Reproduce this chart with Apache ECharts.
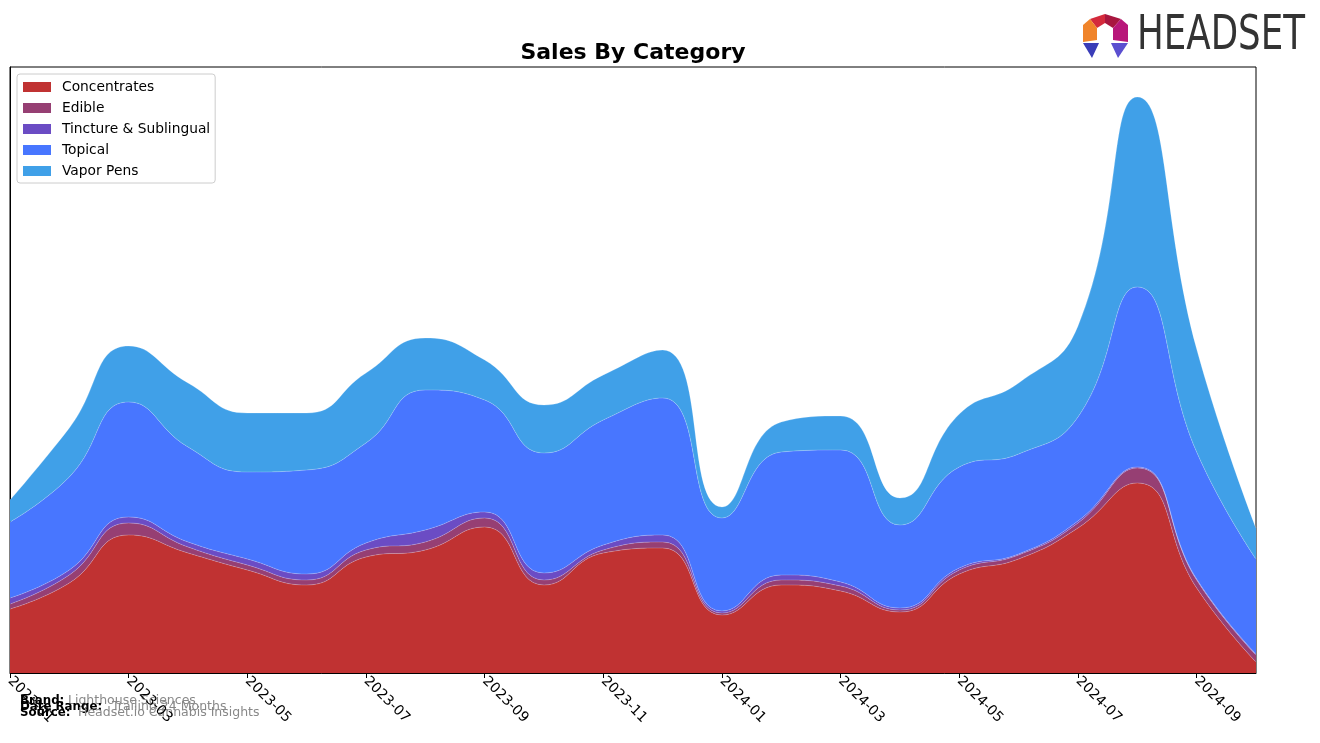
<!DOCTYPE html>
<html>
<head>
<meta charset="utf-8">
<script src="https://cdn.jsdelivr.net/npm/echarts@6/dist/echarts.min.js"></script>
<style>
html,body{margin:0;padding:0;background:#fff;}
#chart{width:1320px;height:743px;}
</style>
</head>
<body>
<div id="chart"></div>
<script>
// ---- data ----
const months = ['2023-01','2023-02','2023-03','2023-04','2023-05','2023-06','2023-07','2023-08','2023-09','2023-10','2023-11','2023-12','2024-01','2024-02','2024-03','2024-04','2024-05','2024-06','2024-07','2024-08','2024-09','2024-10'];
const seriesNames = ['Concentrates','Edible','Tincture & Sublingual','Topical','Vapor Pens'];
const concentrates = [64,90,138,120,103,88,116,123,146,88,120,125,58,88,82,61,99,114,145,190,85,11];
const edible       = [5,8,12,6,5,5,7,8,9,5,3,6,2,5,5,2,4,4,5,15,8,7];
const tincture     = [6,5,6,5,6,6,7,12,6,7,5,7,2,5,4,2,2,1,2,1,1,1];
const topical      = [76,93,115,95,87,104,100,140,112,120,125,137,93,123,132,83,101,100,104,180,127,95];
const vaporPens    = [22,49,56,64,59,57,70,52,40,48,45,48,11,30,34,27,53,71,91,190,103,31];
const tickLabels = ['2023-01','2023-03','2023-05','2023-07','2023-09','2023-11','2024-01','2024-03','2024-05','2024-07','2024-09'];
const colors = ['#c03232','#963f73','#6b4cc4','#4876ff','#40a0e8'];

const valuesList = [concentrates, edible, tincture, topical, vaporPens];

const chart = echarts.init(document.getElementById('chart'), null, {renderer:'canvas'});

// measure logo text width
const cv = document.createElement('canvas').getContext('2d');
cv.font = '48px "DejaVu Sans"';
const logoW = cv.measureText('HEADSET').width;
const logoScale = 168 / logoW;

const series = seriesNames.map((name, i) => ({
  name: name,
  type: 'line',
  stack: 'total',
  smooth: 0.5,
  symbol: 'none',
  lineStyle: {width: 0.6, color: 'rgba(255,255,255,0.35)'},
  areaStyle: {color: colors[i], opacity: 1},
  itemStyle: {color: colors[i]},
  emphasis: {disabled: true},
  data: valuesList[i]
}));

const showTick = function(idx, val){ return tickLabels.indexOf(val) >= 0; };

const option = {
  animation: false,
  color: colors,
  textStyle: {fontFamily: 'DejaVu Sans'},
  grid: {left: 10, right: 64, top: 67, bottom: 70, show: true, borderColor: '#000', borderWidth: 1, backgroundColor: 'transparent'},
  xAxis: {
    type: 'category',
    data: months,
    boundaryGap: false,
    axisLine: {show: true, onZero: false, lineStyle: {color: '#000', width: 1}},
    axisTick: {show: true, interval: showTick, length: 5, lineStyle: {color: '#000'}},
    axisLabel: {show: true, interval: showTick, rotate: -45, color: '#000', fontSize: 14, fontFamily: 'DejaVu Sans', margin: 6},
    splitLine: {show: false}
  },
  yAxis: {
    type: 'value', min: 0, max: 606,
    axisLine: {show: true, lineStyle: {color: '#000'}},
    axisTick: {show: false}, axisLabel: {show: false}, splitLine: {show: false}
  },
  legend: {
    data: seriesNames,
    orient: 'vertical',
    left: 17, top: 74,
    itemWidth: 28, itemHeight: 10, itemGap: 7,
    icon: 'rect',
    padding: [6, 5, 5, 6],
    borderColor: '#ccc', borderWidth: 1, borderRadius: 3,
    backgroundColor: 'rgba(255,255,255,0.8)',
    textStyle: {fontSize: 13.8, color: '#000', fontFamily: 'DejaVu Sans', padding: [0,0,0,6]}
  },
  graphic: [
    {type: 'text', x: 633, y: 53, style: {text: 'Sales By Category', font: 'bold 22px "DejaVu Sans"', fill: '#000', textAlign: 'center', textVerticalAlign: 'middle'}},
    {type: 'text', x: 20, y: 701, style: {text: 'Brand:', font: 'bold 11.8px "DejaVu Sans"', fill: '#000', textVerticalAlign: 'middle'}},
    {type: 'text', x: 68, y: 701, style: {text: 'Lighthouse Sciences', font: '12.5px "DejaVu Sans"', fill: '#888', textVerticalAlign: 'middle'}},
    {type: 'text', x: 20, y: 707, style: {text: 'Date Range:', font: 'bold 11.8px "DejaVu Sans"', fill: '#000', textVerticalAlign: 'middle'}},
    {type: 'text', x: 112, y: 707, style: {text: 'Trailing 24 Months', font: '12.5px "DejaVu Sans"', fill: '#888', textVerticalAlign: 'middle'}},
    {type: 'text', x: 20, y: 713, style: {text: 'Source:', font: 'bold 11.8px "DejaVu Sans"', fill: '#000', textVerticalAlign: 'middle'}},
    {type: 'text', x: 78, y: 713, style: {text: 'Headset.io Cannabis Insights', font: '12.5px "DejaVu Sans"', fill: '#888', textVerticalAlign: 'middle'}},
    // logo
    {type: 'text', x: 1137, y: 37, scaleX: logoScale, scaleY: 1.0, style: {text: 'HEADSET', font: '48px "DejaVu Sans"', fill: '#333', textVerticalAlign: 'middle'}},
    {type: 'polygon', shape: {points: [[1090,19],[1105,14],[1105,23],[1097,28]]}, style: {fill: '#d42a3c'}},
    {type: 'polygon', shape: {points: [[1105,14],[1121,19],[1113,28],[1105,23]]}, style: {fill: '#a8163f'}},
    {type: 'polygon', shape: {points: [[1083,25],[1090,19],[1097,28],[1097,40],[1083,42]]}, style: {fill: '#f0842a'}},
    {type: 'polygon', shape: {points: [[1121,19],[1128,25],[1128,42],[1113,40],[1113,28]]}, style: {fill: '#b8177a'}},
    {type: 'polygon', shape: {points: [[1083,43],[1099,43],[1092,58]]}, style: {fill: '#3a3db8'}},
    {type: 'polygon', shape: {points: [[1111,43],[1128,43],[1118,58]]}, style: {fill: '#5b4fd0'}}
  ],
  series: series
};
chart.setOption(option);
</script>
</body>
</html>
